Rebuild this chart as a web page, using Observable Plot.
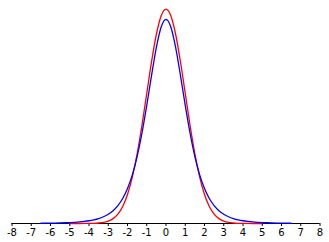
<!DOCTYPE html>
<html>
<head>
<meta charset="utf-8">
<script src="https://cdn.jsdelivr.net/npm/d3@7"></script>
<script src="https://cdn.jsdelivr.net/npm/@observablehq/plot@0.6"></script>
<style>
  html, body { margin: 0; padding: 0; background: white; }
</style>
</head>
<body>
<div id="chart"></div>
<script>
const xTicks = [-8, -7, -6, -5, -4, -3, -2, -1, 0, 1, 2, 3, 4, 5, 6, 7, 8];

const redX = [-5, -4.75, -4.5, -4.25, -4, -3.75, -3.5, -3.25, -3, -2.75, -2.5, -2.25, -2, -1.75, -1.5, -1.25, -1, -0.75, -0.5, -0.25,
  0, 0.25, 0.5, 0.75, 1, 1.25, 1.5, 1.75, 2, 2.25, 2.5, 2.75, 3, 3.25, 3.5, 3.75, 4, 4.25, 4.5, 4.75, 5];
const redY = [0.0000015, 0.000005, 0.000016, 0.000048, 0.00013, 0.00035, 0.0009, 0.0020, 0.0044, 0.0091, 0.0175, 0.0317, 0.0540, 0.0863, 0.1295, 0.1826, 0.2420, 0.3011, 0.3521, 0.3867,
  0.3989, 0.3867, 0.3521, 0.3011, 0.2420, 0.1826, 0.1295, 0.0863, 0.0540, 0.0317, 0.0175, 0.0091, 0.0044, 0.0020, 0.0009, 0.00035, 0.00013, 0.000048, 0.000016, 0.000005, 0.0000015];

const blueX = [-6.5, -6.25, -6, -5.75, -5.5, -5.25, -5, -4.75, -4.5, -4.25, -4, -3.75, -3.5, -3.25, -3, -2.75, -2.5, -2.25, -2, -1.75, -1.5, -1.25, -1, -0.75, -0.5, -0.25,
  0, 0.25, 0.5, 0.75, 1, 1.25, 1.5, 1.75, 2, 2.25, 2.5, 2.75, 3, 3.25, 3.5, 3.75, 4, 4.25, 4.5, 4.75, 5, 5.25, 5.5, 5.75, 6, 6.25, 6.5];
const blueY = [0.00045, 0.00055, 0.00069, 0.00086, 0.00108, 0.00137, 0.00176, 0.00227, 0.00295, 0.00387, 0.00512, 0.00685, 0.00924, 0.0126, 0.0173, 0.0239, 0.0333, 0.0466, 0.0651, 0.0905, 0.1245, 0.1679, 0.2197, 0.2757, 0.3279, 0.3657,
  0.3796, 0.3657, 0.3279, 0.2757, 0.2197, 0.1679, 0.1245, 0.0905, 0.0651, 0.0466, 0.0333, 0.0239, 0.0173, 0.0126, 0.00924, 0.00685, 0.00512, 0.00387, 0.00295, 0.00227, 0.00176, 0.00137, 0.00108, 0.00086, 0.00069, 0.00055, 0.00045];

const red = redX.map((x, i) => ({x, y: redY[i]}));
const blue = blueX.map((x, i) => ({x, y: blueY[i]}));

const chart = Plot.plot({
  width: 329,
  height: 242,
  marginLeft: 11.5,
  marginRight: 9.5,
  marginTop: 8,
  marginBottom: 19,
  style: { fontFamily: "DejaVu Sans, sans-serif", fontSize: "10px", background: "white", color: "black" },
  x: { domain: [-8, 8] },
  y: { domain: [0, 0.4], axis: null },
  marks: [
    Plot.axisX({ ticks: xTicks, tickSize: 3, tickPadding: 2, tickFormat: d => String(d), label: null }),
    Plot.ruleY([0], { stroke: "black", strokeWidth: 1 }),
    Plot.line(red, { x: "x", y: "y", stroke: "#ff0000", strokeWidth: 1.3, curve: "monotone-x" }),
    Plot.line(blue, { x: "x", y: "y", stroke: "#0000ff", strokeWidth: 1.3, curve: "monotone-x" })
  ]
});
document.getElementById("chart").appendChild(chart);
</script>
</body>
</html>
